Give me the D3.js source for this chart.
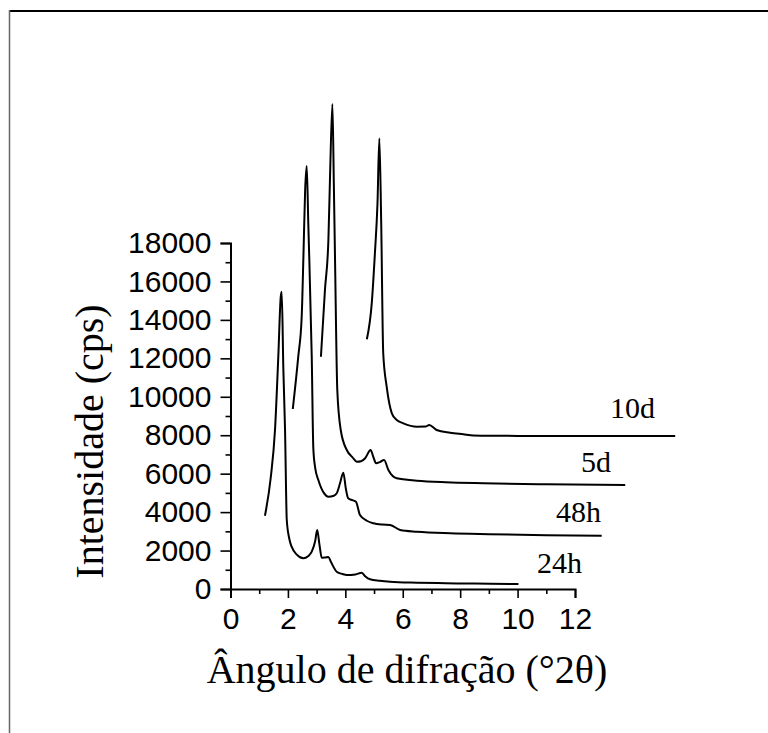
<!DOCTYPE html>
<html>
<head>
<meta charset="utf-8">
<script src="https://cdn.jsdelivr.net/npm/d3@7"></script>
<style>
  html, body { margin: 0; padding: 0; background: #fff; }
  svg { display: block; }
</style>
</head>
<body>
<svg id="chart" width="768" height="733"></svg>
<script>
// ---- data (plotted intensities include the vertical offset of each pattern) ----
const seriesNames = ["24h", "48h", "5d", "10d"];

const angle24h = [1.20, 1.40, 1.55, 1.665, 1.75, 1.784, 1.84, 1.90, 1.96, 2.05, 2.13, 2.30, 2.54, 2.70, 2.83, 2.95, 3.02, 3.10, 3.18, 3.30, 3.41, 3.50, 3.70, 3.90, 4.05, 4.35, 4.57, 4.70, 4.86, 5.20, 5.56, 6.50, 7.50, 8.50, 10.03];
const int24h   = [3813, 5775, 8272, 12085, 15200, 15467, 11500, 8272, 3590, 2600, 2200, 1800, 1597, 1700, 1940, 2500, 3070, 2300, 1620, 1640, 1665, 1400, 900, 780, 728, 760, 848, 650, 505, 430, 380, 330, 300, 280, 260];

const angle48h = [2.17, 2.36, 2.48, 2.54, 2.60, 2.655, 2.71, 2.83, 2.885, 2.95, 3.06, 3.25, 3.41, 3.60, 3.70, 3.815, 3.93, 4.02, 4.10, 4.25, 4.37, 4.51, 4.75, 4.98, 5.30, 5.56, 5.91, 6.50, 7.65, 9.00, 11.00, 12.93];
const int48h   = [9364, 12085, 14166, 17287, 20757, 22006, 19000, 12085, 7317, 6300, 5671, 5000, 4802, 4850, 4979, 5499, 6050, 5200, 4719, 4620, 4542, 3850, 3550, 3418, 3350, 3330, 3070, 2980, 2898, 2850, 2800, 2773];

const angle5d = [3.15, 3.29, 3.41, 3.47, 3.55, 3.60, 3.64, 3.72, 3.84, 4.05, 4.25, 4.40, 4.55, 4.69, 4.88, 4.98, 5.07, 5.20, 5.35, 5.50, 5.79, 6.49, 7.50, 8.81, 11.00, 13.75];
const int5d   = [12085, 15555, 18156, 21626, 25231, 21000, 17287, 10353, 8272, 7231, 6850, 6623, 6650, 6800, 7231, 6850, 6540, 6600, 6711, 6190, 5759, 5634, 5550, 5499, 5450, 5410];

const angle10d = [4.75, 4.92, 5.03, 5.12, 5.185, 5.25, 5.32, 5.44, 5.62, 5.79, 6.02, 6.49, 6.80, 6.92, 7.18, 7.65, 8.11, 8.46, 10.00, 12.00, 15.49];
const int10d   = [12990, 14863, 17464, 20065, 23447, 19000, 12262, 10525, 9140, 8792, 8620, 8444, 8450, 8532, 8272, 8130, 8050, 7990, 7965, 7960, 7960];

// label anchors in data units (angle, intensity)
const labelAngle = [10.68, 11.34, 12.21, 13.22];
const labelInt   = [832, 3486, 6087, 8896];

const xTicks = [0, 2, 4, 6, 8, 10, 12];
const yTicks = [0, 2000, 4000, 6000, 8000, 10000, 12000, 14000, 16000, 18000];
const xMinor = [1, 3, 5, 7, 9, 11];
const yMinor = [1000, 3000, 5000, 7000, 9000, 11000, 13000, 15000, 17000];

const xTitle = "Ângulo de difração (°2θ)";
const yTitle = "Intensidade (cps)";

// ---- drawing ----
const svg = d3.select("#chart");

// frame
svg.append("line").attr("x1", 9).attr("x2", 768).attr("y1", 11).attr("y2", 11)
  .attr("stroke", "#000").attr("stroke-width", 2);
svg.append("line").attr("x1", 9.5).attr("x2", 9.5).attr("y1", 10).attr("y2", 733)
  .attr("stroke", "#666").attr("stroke-width", 1.5);

const x = d3.scaleLinear().domain([0, 12]).range([230.5, 575]);
const y = d3.scaleLinear().domain([0, 18000]).range([589, 243]);

const sans = "'Liberation Sans', Arial, sans-serif";
const serif = "'Liberation Serif', 'Times New Roman', serif";

// minor ticks
const gxm = svg.append("g").attr("transform", `translate(0,${y(0)})`)
  .call(d3.axisBottom(x).tickValues(xMinor).tickSize(5).tickFormat(""));
const gym = svg.append("g").attr("transform", `translate(${x(0)},0)`)
  .call(d3.axisLeft(y).tickValues(yMinor).tickSize(5).tickFormat(""));

// major axes
const gx = svg.append("g").attr("transform", `translate(0,${y(0)})`)
  .call(d3.axisBottom(x).tickValues(xTicks).tickSize(9).tickPadding(10).tickFormat(d3.format("d")));
const gy = svg.append("g").attr("transform", `translate(${x(0)},0)`)
  .call(d3.axisLeft(y).tickValues(yTicks).tickSize(10).tickPadding(9).tickFormat(d3.format("d")));

[gx, gy, gxm, gym].forEach(g => {
  g.selectAll("path.domain").attr("stroke", "#000").attr("stroke-width", 2);
  g.selectAll(".tick line").attr("stroke", "#000").attr("stroke-width", 1.6);
  g.selectAll(".tick text").attr("fill", "#000")
    .style("font-family", sans).style("font-size", "30px");
});
gxm.select("path.domain").remove();
gym.select("path.domain").remove();

// series
const line = d3.line()
  .x(d => x(d[0])).y(d => y(d[1]))
  .curve(d3.curveMonotoneX);

const allSeries = [
  d3.zip(angle24h, int24h),
  d3.zip(angle48h, int48h),
  d3.zip(angle5d, int5d),
  d3.zip(angle10d, int10d)
];

svg.append("g").selectAll("path")
  .data(allSeries)
  .join("path")
  .attr("d", line)
  .attr("fill", "none")
  .attr("stroke", "#000")
  .attr("stroke-width", 2)
  .attr("stroke-linejoin", "round");

// series labels
svg.append("g").selectAll("text")
  .data(seriesNames)
  .join("text")
  .attr("x", (d, i) => x(labelAngle[i]))
  .attr("y", (d, i) => y(labelInt[i]))
  .style("font-family", serif)
  .style("font-size", "30px")
  .attr("fill", "#000")
  .text(d => d);

// axis titles
svg.append("text")
  .attr("x", 407).attr("y", 683)
  .attr("text-anchor", "middle")
  .style("font-family", serif).style("font-size", "40px")
  .text(xTitle);

svg.append("text")
  .attr("transform", "translate(103,441.5) rotate(-90)")
  .attr("text-anchor", "middle")
  .style("font-family", serif).style("font-size", "40px")
  .text(yTitle);
</script>
</body>
</html>
